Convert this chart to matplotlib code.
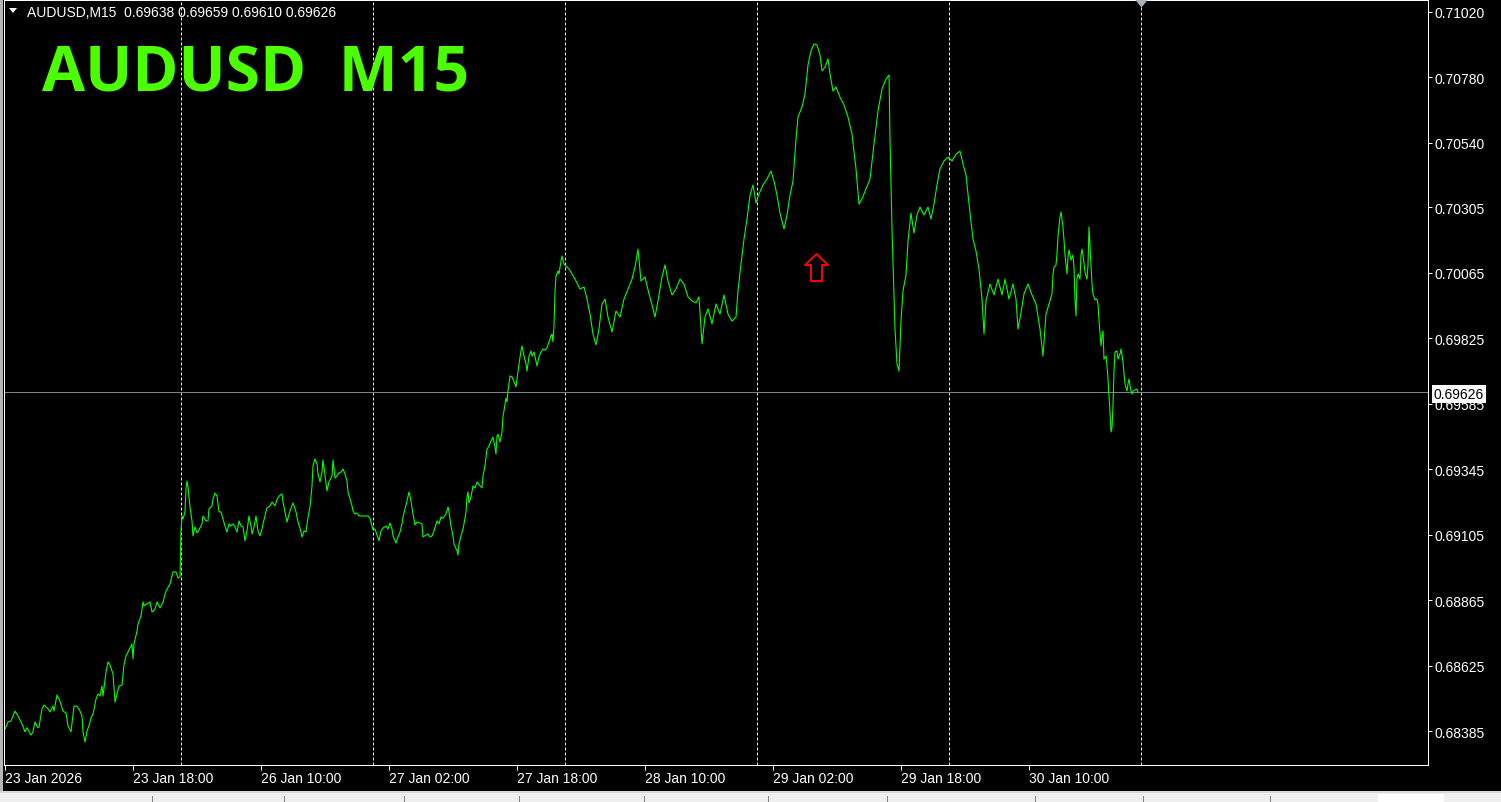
"""AUDUSD M15 line chart in MetaTrader style."""

import matplotlib
matplotlib.use("Agg")
import matplotlib.pyplot as plt
from matplotlib.path import Path
from matplotlib.patches import Rectangle, Polygon
from matplotlib.transforms import blended_transform_factory

W, H = 1501, 803

# time in half-bar steps (7.5 min) from the first visible bar of 23 Jan 2026
t = [
    0, 3, 6, 10, 13, 17, 20, 22, 26, 28,
    30, 33, 34, 37, 39, 43, 45, 48, 49, 52,
    55, 58, 61, 63, 66, 68, 69, 72, 75, 77,
    78, 80, 82, 84, 86, 88, 91, 93, 95, 97,
    98, 101, 103, 105, 108, 110, 112, 114, 117, 119,
    121, 124, 127, 128, 129, 132, 133, 136, 138, 139,
    145, 147, 150, 152, 155, 158, 161, 165, 168, 171,
    173, 175, 176, 177, 178, 180, 181, 182, 183, 185,
    187, 188, 190, 192, 194, 197, 198, 201, 203, 204,
    207, 208, 210, 212, 214, 216, 218, 220, 222, 224,
    226, 228, 230, 232, 234, 236, 238, 240, 242, 244,
    246, 247, 249, 251, 253, 255, 257, 258, 260, 262,
    265, 267, 270, 272, 274, 277, 278, 280, 282, 285,
    288, 291, 293, 295, 297, 299, 301, 303, 305, 307,
    308, 310, 312, 313, 315, 317, 318, 320, 322, 324,
    327, 328, 330, 332, 334, 336, 338, 340, 342, 343,
    345, 347, 348, 350, 352, 354, 357, 363, 365, 367,
    368, 370, 372, 374, 376, 378, 381, 383, 385, 387,
    388, 391, 393, 395, 397, 398, 400, 402, 404, 406,
    408, 410, 412, 415, 417, 418, 421, 423, 425, 427,
    429, 432, 434, 436, 438, 441, 443, 444, 446, 448,
    449, 452, 453, 454, 456, 458, 459, 461, 462, 463,
    464, 466, 468, 470, 472, 474, 477, 478, 480, 482,
    484, 486, 488, 490, 491, 492, 493, 495, 497, 498,
    500, 501, 502, 503, 505, 507, 509, 511, 513, 514,
    516, 517, 519, 521, 522, 524, 526, 527, 529, 531,
    532, 534, 536, 538, 540, 542, 544, 546, 547, 548,
    549, 550, 551, 553, 554, 556, 557, 559, 562, 564,
    567, 571, 575, 579, 582, 585, 588, 591, 594, 597,
    600, 603, 607, 611, 615, 619, 623, 627, 630, 633,
    636, 640, 644, 647, 650, 653, 657, 660, 663, 667,
    671, 675, 679, 683, 687, 691, 694, 697, 700, 703,
    707, 711, 715, 719, 723, 727, 731, 733, 736, 739,
    742, 745, 748, 751, 754, 758, 762, 766, 769, 772,
    775, 779, 782, 785, 788, 791, 793, 797, 800, 803,
    806, 809, 812, 815, 817, 820, 823, 825, 828, 831,
    835, 839, 843, 847, 851, 854, 857, 861, 865, 869,
    873, 877, 881, 884, 885, 887, 890, 892, 894, 896,
    898, 901, 903, 906, 909, 912, 915, 919, 923, 926,
    929, 932, 935, 939, 943, 947, 951, 955, 958, 961,
    965, 968, 971, 974, 977, 979, 981, 985, 989, 993,
    997, 1000, 1004, 1008, 1011, 1013, 1016, 1019, 1023, 1027,
    1031, 1035, 1038, 1041, 1044, 1047, 1048, 1049, 1051, 1052,
    1053, 1055, 1056, 1058, 1059, 1060, 1062, 1063, 1064, 1066,
    1068, 1069, 1070, 1071, 1072, 1073, 1075, 1076, 1077, 1078,
    1080, 1082, 1083, 1084, 1086, 1087, 1088, 1090, 1092, 1093,
    1094, 1096, 1097, 1098, 1099, 1101, 1102, 1103, 1104, 1105,
    1106, 1107, 1108, 1109, 1110, 1112, 1113, 1115, 1116, 1118,
    1119, 1120, 1122, 1123, 1124, 1126, 1127, 1128, 1130, 1132,
    1133,
]

close = [
    0.68392, 0.68418, 0.68422, 0.68458, 0.68440, 0.68411, 0.68382, 0.68397, 0.68370, 0.68382,
    0.68418, 0.68397, 0.68400, 0.68466, 0.68480, 0.68466, 0.68455, 0.68476, 0.68458, 0.68517,
    0.68495, 0.68458, 0.68451, 0.68404, 0.68382, 0.68447, 0.68476, 0.68476, 0.68458, 0.68440,
    0.68382, 0.68345, 0.68385, 0.68404, 0.68433, 0.68447, 0.68502, 0.68521, 0.68513, 0.68550,
    0.68513, 0.68601, 0.68638, 0.68627, 0.68594, 0.68491, 0.68521, 0.68550, 0.68553, 0.68627,
    0.68660, 0.68682, 0.68704, 0.68649, 0.68704, 0.68751, 0.68777, 0.68806, 0.68858, 0.68844,
    0.68858, 0.68821, 0.68832, 0.68858, 0.68836, 0.68858, 0.68898, 0.68924, 0.68968, 0.68968,
    0.68946, 0.68950, 0.69118, 0.69173, 0.69162, 0.69188, 0.69272, 0.69301, 0.69279, 0.69206,
    0.69155, 0.69100, 0.69133, 0.69111, 0.69122, 0.69144, 0.69173, 0.69155, 0.69155, 0.69199,
    0.69210, 0.69235, 0.69257, 0.69246, 0.69188, 0.69188, 0.69162, 0.69136, 0.69114, 0.69144,
    0.69136, 0.69144, 0.69133, 0.69114, 0.69155, 0.69136, 0.69133, 0.69082, 0.69118, 0.69173,
    0.69136, 0.69107, 0.69133, 0.69173, 0.69118, 0.69100, 0.69125, 0.69144, 0.69173, 0.69203,
    0.69210, 0.69224, 0.69210, 0.69232, 0.69246, 0.69254, 0.69224, 0.69188, 0.69151, 0.69192,
    0.69221, 0.69188, 0.69151, 0.69129, 0.69096, 0.69118, 0.69114, 0.69169, 0.69206, 0.69283,
    0.69356, 0.69382, 0.69364, 0.69327, 0.69298, 0.69334, 0.69378, 0.69320, 0.69265, 0.69298,
    0.69320, 0.69378, 0.69312, 0.69320, 0.69331, 0.69334, 0.69345, 0.69327, 0.69301, 0.69261,
    0.69235, 0.69210, 0.69192, 0.69180, 0.69184, 0.69173, 0.69173, 0.69173, 0.69165, 0.69136,
    0.69122, 0.69125, 0.69103, 0.69082, 0.69118, 0.69129, 0.69136, 0.69125, 0.69147, 0.69125,
    0.69100, 0.69074, 0.69096, 0.69114, 0.69144, 0.69169, 0.69199, 0.69228, 0.69261, 0.69228,
    0.69180, 0.69140, 0.69151, 0.69147, 0.69144, 0.69096, 0.69103, 0.69107, 0.69096, 0.69100,
    0.69118, 0.69155, 0.69144, 0.69169, 0.69165, 0.69180, 0.69206, 0.69188, 0.69136, 0.69100,
    0.69070, 0.69045, 0.69030, 0.69070, 0.69100, 0.69125, 0.69144, 0.69188, 0.69243, 0.69261,
    0.69221, 0.69243, 0.69283, 0.69276, 0.69298, 0.69287, 0.69276, 0.69320, 0.69356, 0.69418,
    0.69429, 0.69448, 0.69462, 0.69426, 0.69400, 0.69466, 0.69473, 0.69444, 0.69481, 0.69536,
    0.69583, 0.69605, 0.69591, 0.69631, 0.69686, 0.69683, 0.69665, 0.69646, 0.69701, 0.69730,
    0.69778, 0.69796, 0.69759, 0.69730, 0.69704, 0.69759, 0.69778, 0.69759, 0.69774, 0.69741,
    0.69723, 0.69756, 0.69774, 0.69785, 0.69781, 0.69789, 0.69811, 0.69833, 0.69840, 0.69811,
    0.69869, 0.69994, 0.70052, 0.70071, 0.70060, 0.70107, 0.70126, 0.70096, 0.70085, 0.70078,
    0.70060, 0.70034, 0.70005, 0.70012, 0.69968, 0.69913, 0.69840, 0.69800, 0.69858, 0.69950,
    0.69968, 0.69902, 0.69847, 0.69924, 0.69902, 0.69968, 0.70005, 0.70041, 0.70085, 0.70151,
    0.70034, 0.70049, 0.69987, 0.69947, 0.69902, 0.69961, 0.70049, 0.70093, 0.70034, 0.69983,
    0.70005, 0.70041, 0.70023, 0.69976, 0.69961, 0.69954, 0.69976, 0.69804, 0.69902, 0.69932,
    0.69877, 0.69950, 0.69913, 0.69983, 0.69913, 0.69887, 0.69902, 0.69998, 0.70096, 0.70188,
    0.70261, 0.70349, 0.70386, 0.70320, 0.70353, 0.70386, 0.70408, 0.70437, 0.70400, 0.70349,
    0.70283, 0.70225, 0.70276, 0.70349, 0.70400, 0.70554, 0.70635, 0.70672, 0.70719, 0.70826,
    0.70877, 0.70903, 0.70899, 0.70862, 0.70804, 0.70818, 0.70848, 0.70793, 0.70730, 0.70745,
    0.70708, 0.70679, 0.70635, 0.70573, 0.70445, 0.70316, 0.70335, 0.70371, 0.70408, 0.70536,
    0.70657, 0.70738, 0.70774, 0.70789, 0.70554, 0.70225, 0.69858, 0.69730, 0.69704, 0.69887,
    0.69998, 0.70056, 0.70181, 0.70283, 0.70210, 0.70276, 0.70305, 0.70276, 0.70305, 0.70261,
    0.70316, 0.70386, 0.70445, 0.70474, 0.70488, 0.70474, 0.70499, 0.70510, 0.70463, 0.70423,
    0.70283, 0.70188, 0.70144, 0.70078, 0.69968, 0.69840, 0.69961, 0.70023, 0.69983, 0.70041,
    0.69983, 0.70041, 0.69968, 0.70023, 0.69968, 0.69858, 0.69917, 0.69987, 0.70023, 0.69983,
    0.69950, 0.69858, 0.69759, 0.69913, 0.69950, 0.69987, 0.70056, 0.70085, 0.70093, 0.70133,
    0.70199, 0.70269, 0.70287, 0.70232, 0.70184, 0.70129, 0.70060, 0.70122, 0.70148, 0.70111,
    0.70129, 0.70085, 0.69965, 0.69906, 0.70041, 0.70060, 0.70041, 0.70129, 0.70151, 0.70129,
    0.70067, 0.70041, 0.70093, 0.70232, 0.70089, 0.70023, 0.69987, 0.69965, 0.69968, 0.69950,
    0.69891, 0.69796, 0.69833, 0.69851, 0.69748, 0.69759, 0.69723, 0.69675, 0.69613, 0.69554,
    0.69481, 0.69496, 0.69576, 0.69704, 0.69774, 0.69778, 0.69748, 0.69767, 0.69785, 0.69738,
    0.69694, 0.69657, 0.69631, 0.69657, 0.69675, 0.69631, 0.69620, 0.69631, 0.69635, 0.69638,
    0.69626,
]
assert len(t) == len(close)

symbol = "AUDUSD"
timeframe = "M15"
last_ohlc = [0.69638, 0.69659, 0.69610, 0.69626]

price_ticks = [0.71020, 0.70780, 0.70540, 0.70305, 0.70065, 0.69825,
               0.69585, 0.69345, 0.69105, 0.68865, 0.68625, 0.68385]
time_ticks = [0, 128, 256, 384, 512, 640, 768, 896, 1024]
time_labels = ["23 Jan 2026", "23 Jan 18:00", "26 Jan 10:00", "27 Jan 02:00",
               "27 Jan 18:00", "28 Jan 10:00", "29 Jan 02:00", "29 Jan 18:00",
               "30 Jan 10:00"]
day_breaks = [176, 368, 560, 752, 944, 1136]
signal_t, signal_price = 811, 0.70087
shift_t = 1136


def fx(px):
    return px / W


def fy(py):
    return 1 - py / H


plt.rcParams["font.family"] = ["Liberation Sans", "DejaVu Sans"]

fig = plt.figure(figsize=(W / 100, H / 100), dpi=100, facecolor="black")
ax = fig.add_axes([fx(4), fy(766), fx(1428) - fx(4), fy(1) - fy(766)], facecolor="black")
ax.set_xlim(-1, 1423)
ax.set_ylim(0.682604, 0.710639)

for d in day_breaks:
    ax.axvline(d, color="#e8e8e8", lw=0.72, ls=(0, (3, 2)), zorder=1)
ax.axhline(close[-1], color="#7a8592", lw=0.72, zorder=1.2)
ax.plot(t, close, color="#00ff00", lw=0.8, zorder=2)

# hollow red up arrow (signal)
arrow = Path([(0, 13.5), (11.5, 2.5), (5.5, 2.5), (5.5, -13.5), (-5.5, -13.5),
              (-5.5, 2.5), (-11.5, 2.5), (0, 13.5)],
             [Path.MOVETO] + [Path.LINETO] * 6 + [Path.CLOSEPOLY])
ax.plot([signal_t], [signal_price], marker=arrow, ms=27 * 0.72, mfc="black",
        mec="#ff0000", mew=1.4, ls="none", zorder=3)

# chart shift marker at top
tri = Path([(-6.5, 1), (6.5, 1), (0, -7), (-6.5, 1)],
           [Path.MOVETO, Path.LINETO, Path.LINETO, Path.CLOSEPOLY])
ax.plot([shift_t], [1.0], marker=tri, ms=14 * 0.72, mfc="#a9b1ba", mec="none",
        ls="none", clip_on=False, zorder=5,
        transform=blended_transform_factory(ax.transData, ax.transAxes))

ax.yaxis.tick_right()
ax.set_yticks(price_ticks)
ax.set_yticklabels([f"{p:.5f}" for p in price_ticks])
ax.set_xticks(time_ticks)
ax.set_xticklabels(time_labels, ha="left")
ax.tick_params(colors="white", labelcolor="white", labelsize=10, width=0.72)
ax.tick_params(axis="y", length=2.9, pad=1.5)
ax.tick_params(axis="x", length=3.6, pad=0.5)
for s in ax.spines.values():
    s.set_color("white")
    s.set_linewidth(0.72)

# current price label
ax.annotate(f"{close[-1]:.5f}", xy=(1.0, close[-1]),
            xycoords=blended_transform_factory(ax.transAxes, ax.transData),
            xytext=(6, 0), textcoords="offset pixels", ha="left", va="center_baseline",
            fontsize=10, color="black", annotation_clip=False, zorder=10,
            bbox=dict(boxstyle="square,pad=0.15", fc="white", ec="none"))

# header and big title
fig.text(fx(27), fy(17), f"{symbol},{timeframe}  " + " ".join(f"{v:.5f}" for v in last_ohlc),
         fontsize=10, color="white", va="baseline", ha="left")
fig.add_artist(Polygon([(fx(9), fy(9)), (fx(17), fy(9)), (fx(13), fy(14))],
                       closed=True, fc="white", ec="none", transform=fig.transFigure))
fig.text(fx(42), fy(92), f"{symbol}  {timeframe}", fontsize=45, fontweight="bold",
         family="Open Sans", color="#4cff00", va="baseline", ha="left")

# window chrome: left edge and bottom tab bar
fig.add_artist(Rectangle((0, 0), fx(3), 1, fc="#b4b4b4", ec="none", transform=fig.transFigure))
fig.add_artist(Rectangle((0, 0), 1, fy(792), fc="#f0f0f0", ec="none", transform=fig.transFigure))
fig.add_artist(Rectangle((0, fy(794)), 1, fy(792) - fy(794), fc="#d8d8d8", ec="none",
                         transform=fig.transFigure))
fig.add_artist(Rectangle((fx(1378), 0), fx(1444) - fx(1378), fy(795), fc="white", ec="none",
                         transform=fig.transFigure))
for sx in [152, 284, 404, 519, 644, 768, 887, 1035, 1143, 1270]:
    fig.add_artist(plt.Line2D([fx(sx), fx(sx)], [0, fy(797)], color="#808080", lw=0.72,
                              transform=fig.transFigure))

fig.savefig("out.png", dpi=100, facecolor=fig.get_facecolor())
